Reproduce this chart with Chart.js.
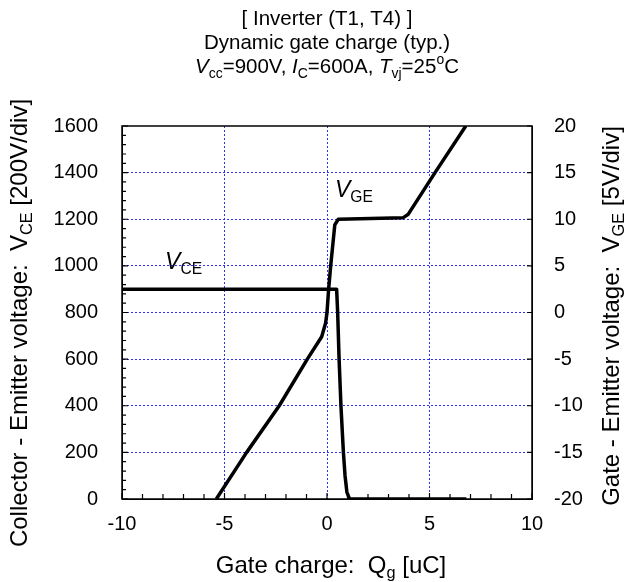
<!DOCTYPE html>
<html lang="en">
<head>
  <meta charset="UTF-8">
  <title>Dynamic gate charge</title>
  <script src="https://cdn.jsdelivr.net/npm/chart.js"></script>
  <style>
    body { margin: 0; background: #fff; }
    #wrap { width: 630px; height: 582px; position: relative; }
  </style>
</head>
<body>
  <div id="wrap"><canvas id="gateChart"></canvas></div>
  <script>
    // values
    const qVce = [-10, 0.47, 0.52, 0.59, 0.68, 0.80, 0.88, 0.97, 1.10, 6.80];
    const vce = [900, 900, 800, 600, 400, 200, 100, 30, 0, 0];
    const qVge = [-5.4, -3.92, -2.33, -0.96, -0.26, -0.07, 0.0, 0.08, 0.18, 0.38, 0.55, 3.70, 3.95, 5.27, 6.77];
    const vge = [-20, -15, -10, -5, -2.6, -1.15, 0, 2.5, 5, 9.4, 10, 10.15, 10.5, 15, 20];

    const xTicks = [-10, -5, 0, 5, 10];
    const vceTicks = [0, 200, 400, 600, 800, 1000, 1200, 1400, 1600];
    const vgeTicks = [-20, -15, -10, -5, 0, 5, 10, 15, 20];

    const FONT = '"Liberation Sans", Arial, sans-serif';
    const gridBlue = '#3030f5';

    // draws text made of pieces, some italic / subscript / superscript
    function drawRich(ctx, parts, x, y, size, align) {
      const fontFor = p => {
        const s = (p.sub || p.sup) ? size * 0.68 : size;
        return (p.italic ? 'italic ' : '') + s + 'px ' + FONT;
      };
      let total = 0;
      parts.forEach(p => { ctx.font = fontFor(p); total += ctx.measureText(p.t).width; });
      let cx = align === 'left' ? x : x - total / 2;
      ctx.textAlign = 'left';
      ctx.textBaseline = 'alphabetic';
      parts.forEach(p => {
        ctx.font = fontFor(p);
        let dy = 0;
        if (p.sub) dy = size * 0.22;
        if (p.sup) dy = -size * 0.42;
        ctx.fillText(p.t, cx, y + dy);
        cx += ctx.measureText(p.t).width;
      });
    }

    const decorations = {
      id: 'decorations',
      afterDraw(chart) {
        const ctx = chart.ctx;
        const a = chart.chartArea;
        const sx = chart.scales.x, sy = chart.scales.y, sy2 = chart.scales.y2;
        ctx.save();
        ctx.strokeStyle = '#000';
        ctx.lineWidth = 1.5;
        ctx.strokeRect(a.left, a.top, a.right - a.left, a.bottom - a.top);

        // inward ticks
        ctx.lineWidth = 1.2;
        ctx.beginPath();
        for (let v = 0; v <= 1600; v += 40) {
          const py = sy.getPixelForValue(v);
          ctx.moveTo(a.left, py);
          ctx.lineTo(a.left + (v % 200 === 0 ? 6 : 4), py);
        }
        for (let q = -10; q <= 10; q += 1) {
          const px = sx.getPixelForValue(q);
          ctx.moveTo(px, a.bottom);
          ctx.lineTo(px, a.bottom - (q % 5 === 0 ? 6 : 5));
        }
        vgeTicks.forEach(v => {
          const py = sy2.getPixelForValue(v);
          ctx.moveTo(a.right, py);
          ctx.lineTo(a.right - 5, py);
        });
        ctx.stroke();

        ctx.fillStyle = '#000';
        const cx = (a.left + a.right) / 2;
        // title block
        drawRich(ctx, [{ t: '[ Inverter (T1, T4) ]' }], cx, 25, 20.5, 'center');
        drawRich(ctx, [{ t: 'Dynamic gate charge (typ.)' }], cx, 49, 20.5, 'center');
        drawRich(ctx, [
          { t: 'V', italic: true }, { t: 'cc', sub: true }, { t: '=900V, ' },
          { t: 'I', italic: true }, { t: 'C', sub: true }, { t: '=600A, ' },
          { t: 'T', italic: true }, { t: 'vj', sub: true }, { t: '=25' },
          { t: 'o', sup: true }, { t: 'C' }
        ], cx, 73, 20.5, 'center');

        // curve labels
        drawRich(ctx, [{ t: 'V', italic: true }, { t: 'CE', sub: true }],
          sx.getPixelForValue(-7.9), sy.getPixelForValue(985), 23, 'left');
        drawRich(ctx, [{ t: 'V', italic: true }, { t: 'GE', sub: true }],
          sx.getPixelForValue(0.39), sy2.getPixelForValue(12.4), 23, 'left');

        // axis titles
        drawRich(ctx, [{ t: 'Gate charge:  Q' }, { t: 'g', sub: true }, { t: ' [uC]' }],
          cx + 4, 573, 24, 'center');

        ctx.save();
        ctx.translate(27, 323);
        ctx.rotate(-Math.PI / 2);
        drawRich(ctx, [{ t: 'Collector - Emitter voltage:  V' }, { t: 'CE', sub: true }, { t: ' [200V/div]' }],
          0, 0, 24, 'center');
        ctx.restore();

        ctx.save();
        ctx.translate(619, 316);
        ctx.rotate(-Math.PI / 2);
        drawRich(ctx, [{ t: 'Gate - Emitter voltage:  V' }, { t: 'GE', sub: true }, { t: ' [5V/div]' }],
          0, 0, 24, 'center');
        ctx.restore();
        ctx.restore();
      }
    };

    const edgeless = (lo, hi) => c => (c.tick && (c.tick.value === lo || c.tick.value === hi)) ? 'rgba(0,0,0,0)' : gridBlue;
    const plain = v => String(v);

    new Chart(document.getElementById('gateChart'), {
      type: 'line',
      data: {
        datasets: [
          {
            label: 'VCE',
            data: qVce.map((q, i) => ({ x: q, y: vce[i] })),
            yAxisID: 'y',
            borderColor: '#000',
            borderWidth: 3.5,
            pointRadius: 0,
            tension: 0,
            borderJoinStyle: 'round'
          },
          {
            label: 'VGE',
            data: qVge.map((q, i) => ({ x: q, y: vge[i] })),
            yAxisID: 'y2',
            borderColor: '#000',
            borderWidth: 3.5,
            pointRadius: 0,
            tension: 0,
            borderJoinStyle: 'round'
          }
        ]
      },
      options: {
        responsive: true,
        maintainAspectRatio: false,
        animation: false,
        devicePixelRatio: 1,
        layout: { padding: { top: 126, left: 0, right: 0, bottom: 0 } },
        plugins: { legend: { display: false }, tooltip: { enabled: false } },
        scales: {
          x: {
            type: 'linear',
            min: -10,
            max: 10,
            afterBuildTicks: s => { s.ticks = xTicks.map(v => ({ value: v })); },
            afterFit: s => { s.height = 83; },
            ticks: { color: '#000', font: { family: FONT, size: 20 }, padding: 13, callback: plain },
            grid: { color: edgeless(-10, 10), lineWidth: 1, drawTicks: false },
            border: { display: true, color: '#000', width: 1, dash: [2, 2] }
          },
          y: {
            position: 'left',
            min: 0,
            max: 1600,
            afterBuildTicks: s => { s.ticks = vceTicks.map(v => ({ value: v })); },
            afterFit: s => { s.width = 122; },
            ticks: { color: '#000', font: { family: FONT, size: 20 }, padding: 24, callback: plain },
            grid: { color: edgeless(0, 1600), lineWidth: 1, drawTicks: false },
            border: { display: true, color: '#000', width: 1, dash: [2, 2] }
          },
          y2: {
            position: 'right',
            min: -20,
            max: 20,
            afterBuildTicks: s => { s.ticks = vgeTicks.map(v => ({ value: v })); },
            afterFit: s => { s.width = 98; },
            ticks: { color: '#000', font: { family: FONT, size: 20 }, padding: 22, callback: plain },
            grid: { display: false, drawTicks: false },
            border: { display: true, color: '#000', width: 1 }
          }
        }
      },
      plugins: [decorations]
    });
  </script>
</body>
</html>
